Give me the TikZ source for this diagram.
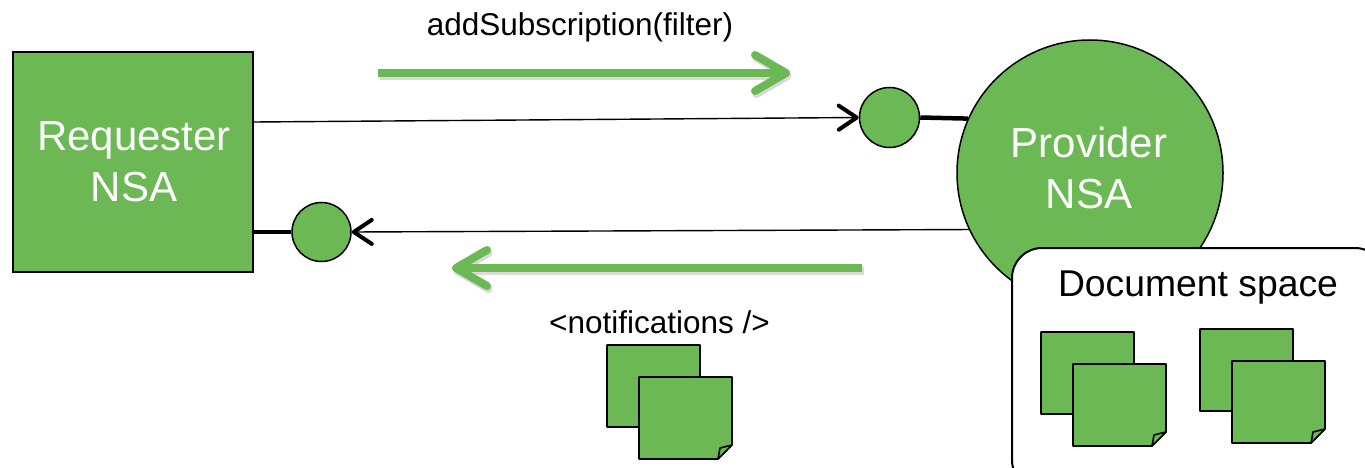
\documentclass[tikz,border=0pt]{standalone}
\usepackage{fontspec}
\setmainfont{Liberation Sans}
\usetikzlibrary{arrows.meta}
\definecolor{nsagreen}{HTML}{6CB854}
\tikzset{
  greenfill/.style={fill=nsagreen, draw=black, line width=1.5pt},
  bigtext/.style={text=white, align=center, font=\fontsize{42}{50.5}\selectfont},
  lbl/.style={text=black, font=\fontsize{31.5}{36}\selectfont, inner sep=0pt},
  thinarrow/.style={draw=black, line width=1.4pt, -{Straight Barb[length=18pt, width=24pt, line width=4pt, round]}},
  thickline/.style={draw=black, line width=4.5pt},
  greenarrow/.style={draw=nsagreen, line width=8pt, -{Straight Barb[length=31pt, width=36pt, round]}},
  shadowarrow/.style={draw=black!15, line width=8pt, -{Straight Barb[length=31pt, width=36pt, round]}},
  sheetstyle/.style={fill=nsagreen, draw=black, line width=1.6pt, line join=round},
  sheet/.pic={
    \filldraw[sheetstyle] (0,0) -- (93,0) -- (93,68) -- (79,82) -- (0,82) -- cycle;
    \filldraw[sheetstyle] (93,68) -- (81,71) -- (79,82) -- cycle;
  },
  sheetpair/.pic={
    \pic at (0,0) {sheet};
    \pic at (32,32) {sheet};
  }
}
\begin{document}
\begin{tikzpicture}[x=1pt, y=-1pt]
\useasboundingbox (0,0) rectangle (1365,468);
% Requester
\node[greenfill, minimum width=240pt, minimum height=220pt, inner sep=0pt] (req) at (133,162) {};
\node[bigtext, inner sep=0pt] (reqtext) at (134,162) {Requester\\NSA};
% Provider
\node[greenfill, circle, minimum size=266pt, inner sep=0pt] (prov) at (1090,173) {};
\node[bigtext, inner sep=0pt] (provtext) at (1089,168) {Provider\\NSA};
% small interface circles
\node[greenfill, circle, minimum size=60pt, inner sep=0pt] (pin) at (889.5,117.5) {};
\node[greenfill, circle, minimum size=59pt, inner sep=0pt] (pout) at (321.5,232) {};
% connectors
\draw[thinarrow] ([yshift=40pt]req.east) -- (pin.west);
\draw[thickline] (pin.east) -- (prov.156.6);
\draw[thinarrow] (prov.205.4) -- (pout.east);
\draw[thickline] ([yshift=-70pt]req.east) -- (pout.west);
% green flow arrows
\coordinate (s1) at (378,73);
\coordinate (e1) at (790,73);
\coordinate (s2) at (862,268);
\coordinate (e2) at (452,268);
\draw[shadowarrow] ([shift={(1.5pt,-3pt)}]s1) -- ([shift={(1.5pt,-3pt)}]e1);
\draw[shadowarrow] ([shift={(1.5pt,-3pt)}]s2) -- ([shift={(1.5pt,-3pt)}]e2);
\draw[greenarrow] (s1) -- (e1);
\draw[greenarrow] (s2) -- (e2);
% labels
\node[lbl] (sub) at (580,27) {addSubscription(filter)};
\node[lbl] (notif) at (659.5,322) {<notifications />};
% notification documents
\pic at (607,345) {sheetpair};
% document space
\draw[fill=white, draw=black, line width=2pt, rounded corners=30pt] (1012,248) rectangle (1385,490);
\node[text=black, font=\fontsize{37.3}{44}\selectfont, inner sep=0pt] (dslabel) at (1198,288) {Document space};
\pic at (1041,332) {sheetpair};
\pic at (1200,329) {sheetpair};
\end{tikzpicture}
\end{document}
